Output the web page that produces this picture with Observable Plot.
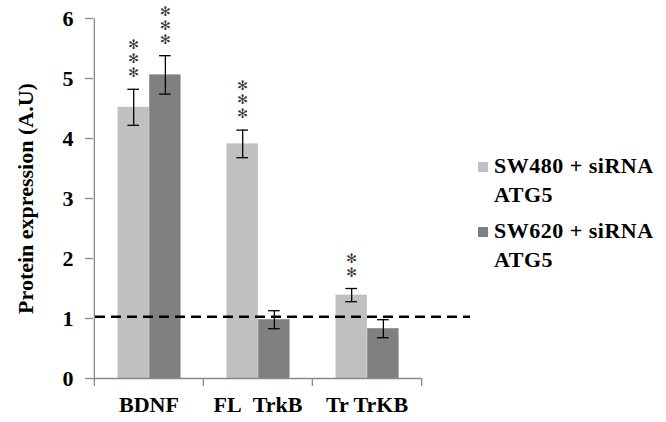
<!DOCTYPE html>
<html><head><meta charset="utf-8">
<script src="https://cdn.jsdelivr.net/npm/d3@7"></script>
<script src="https://cdn.jsdelivr.net/npm/@observablehq/plot@0.6"></script>
<style>
body{margin:0;background:#fff;}
#wrap{position:relative;width:666px;height:422px;font-family:"Liberation Serif","Times New Roman",serif;}
#legend{position:absolute;left:478px;top:151px;}
.item{display:flex;align-items:flex-start;margin-bottom:7px;}
.sw{width:10px;height:10px;margin-top:11px;margin-right:6px;flex:none;}
.lab{font-weight:bold;font-size:22px;line-height:29px;letter-spacing:0.5px;width:178px;color:#000;}
</style></head><body><div id="wrap"><div id="legend"></div></div>
<script>
const categories = ["BDNF", "FL\u00a0\u00a0TrkB", "Tr TrKB"];
const series = ["SW480 + siRNA ATG5", "SW620 + siRNA ATG5"];
const seriesColors = ["#c0c0c0", "#808080"];
const sw480Values = [4.52, 3.91, 1.39];
const sw620Values = [5.06, 0.98, 0.83];
const sw480Errors = [0.30, 0.23, 0.11];
const sw620Errors = [0.32, 0.15, 0.15];
const sw480Stars = ["***", "***", "**"];
const sw620Stars = ["***", "", ""];
const baseline = 1.03;
const yTicks = [0, 1, 2, 3, 4, 5, 6];

const values = [sw480Values, sw620Values];
const errors = [sw480Errors, sw620Errors];
const stars = [sw480Stars, sw620Stars];
const rows = categories.flatMap((c, i) => series.map((s, k) => ({
  category: c, series: s, value: values[k][i], err: errors[k][i], stars: stars[k][i]
})));

const W = 666, H = 422, mL = 93, mR = 245, mT = 18, mB = 44;
const bw = (W - mL - mR) / categories.length;
const barW = 31.7, groupStart = 23.5, capW = 12;
const gray = "#898989";

const marks = [];
series.forEach((s, k) => {
  const data = rows.filter(d => d.series === s);
  const left = groupStart + k * barW;
  const center = left + barW / 2;
  marks.push(Plot.barY(data, {x: "category", y: "value", fill: "series",
    insetLeft: left, insetRight: bw - left - barW}));
  marks.push(Plot.ruleX(data, {x: "category", y1: d => d.value - d.err, y2: d => d.value + d.err,
    dx: center - bw / 2, stroke: "#000", strokeWidth: 1.3}));
  for (const sgn of [1, -1]) {
    marks.push(Plot.tickY(data, {x: "category", y: d => d.value + sgn * d.err,
      insetLeft: center - capW / 2, insetRight: bw - center - capW / 2, stroke: "#000", strokeWidth: 1.3}));
  }
  marks.push(Plot.text(data.filter(d => d.stars), {x: "category", y: d => d.value + d.err,
    text: d => d.stars.split("").map(() => "\u273B").join("\n"), dx: center - bw / 2, dy: -12,
    lineAnchor: "bottom", lineHeight: 14 / 13, fontSize: 13, fontFamily: "DejaVu Sans", fill: "#333"}));
});

const plot = Plot.plot({
  width: W, height: H, marginLeft: mL, marginRight: mR, marginTop: mT, marginBottom: mB,
  style: {fontFamily: "'Liberation Serif', 'Times New Roman', serif", background: "#fff"},
  x: {domain: categories, padding: 0, axis: null},
  y: {domain: [0, 6], axis: null},
  color: {domain: series, range: seriesColors},
  marks: [
    ...marks,
    Plot.ruleY([0], {stroke: gray, strokeWidth: 1.3}),
    Plot.ruleX([categories[0]], {x: d => d, dx: -bw / 2, y1: 0, y2: 6, stroke: gray, strokeWidth: 1.3}),
    Plot.ruleX(categories, {x: d => d, dx: -bw / 2, y1: 0, y2: 0, insetBottom: -8, stroke: gray, strokeWidth: 1.3}),
    Plot.ruleX([categories[categories.length - 1]], {x: d => d, dx: bw / 2, y1: 0, y2: 0, insetBottom: -8, stroke: gray, strokeWidth: 1.3}),
    Plot.axisY({ticks: yTicks, tickFormat: d3.format("d"), tickSize: 8, tickPadding: 12, fontSize: 22, fontWeight: "bold",
      stroke: gray, fill: "#000", strokeWidth: 1.3,
      label: "Protein expression (A.U)", labelAnchor: "center", labelArrow: "none", labelOffset: 76}),
    Plot.axisX({tickSize: 0, tickPadding: 18, fontSize: 22, fontWeight: "bold", fill: "#000", label: null}),
    Plot.ruleY([baseline], {stroke: "#000", strokeWidth: 2.6, strokeDasharray: "10,6", insetLeft: 2, insetRight: -49})
  ]
});
document.getElementById("wrap").prepend(plot);

const legend = document.getElementById("legend");
const color = plot.scale("color");
series.forEach((s, k) => {
  const item = document.createElement("div");
  item.className = "item";
  const sw = document.createElement("div");
  sw.className = "sw";
  sw.style.background = color.range[k];
  const lab = document.createElement("div");
  lab.className = "lab";
  lab.textContent = s;
  item.append(sw, lab);
  legend.append(item);
});
</script></body></html>
